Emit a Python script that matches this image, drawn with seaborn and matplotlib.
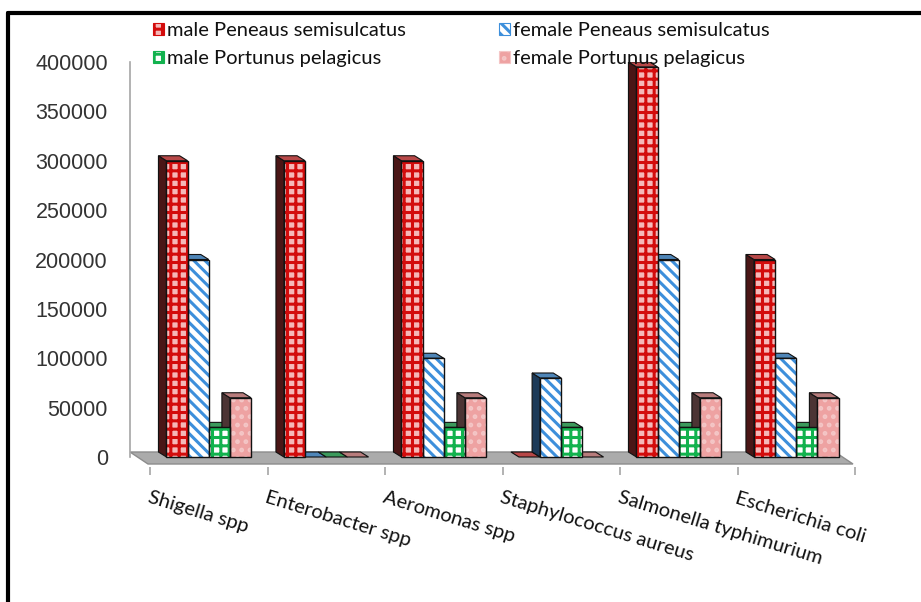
import matplotlib
matplotlib.use("Agg")
import numpy as np
import pandas as pd
import seaborn as sns
import matplotlib.pyplot as plt
import matplotlib.transforms as mtransforms
from matplotlib.patches import Polygon, Rectangle, Patch
from matplotlib.lines import Line2D

# ---------------- data ----------------
categories = ["Shigella spp", "Enterobacter spp", "Aeromonas spp",
              "Staphylococcus aureus", "Salmonella typhimurium", "Escherichia coli"]
series = ["male Peneaus semisulcatus", "female Peneaus semisulcatus",
          "male Portunus pelagicus", "female Portunus pelagicus"]
male_peneaus = [300000, 300000, 300000, 0, 395000, 200000]
female_peneaus = [200000, 0, 100000, 80000, 200000, 100000]
male_portunus = [30000, 0, 30000, 30000, 30000, 30000]
female_portunus = [60000, 0, 60000, 0, 60000, 60000]
yticks = [0, 50000, 100000, 150000, 200000, 250000, 300000, 350000, 400000]

values = [male_peneaus, female_peneaus, male_portunus, female_portunus]
df = pd.DataFrame({
    "category": [c for s in series for c in categories],
    "series": [s for s in series for c in categories],
    "value": [v for vals in values for v in vals],
})

# ---------------- style ----------------
sns.set_theme(style="white")
plt.rcParams["hatch.linewidth"] = 2.2
plt.rcParams["font.family"] = ["Lato", "DejaVu Sans"]

styles = {
    series[0]: dict(face="#F5B8B8", hatch="++", hc="#D30C0C", side="#4A1616", top="#B84848"),
    series[1]: dict(face="#FFFFFF", hatch="\\\\\\", hc="#3D8FDB", side="#1C3A58", top="#4F86B8"),
    series[2]: dict(face="#FFFFFF", hatch="++", hc="#12B24E", side="#1E4A2C", top="#3C9A5C"),
    series[3]: dict(face="#EEA2A2", hatch="..", hc="#F4C6C6", side="#4C3434", top="#B87C7C"),
}
palette = {s: styles[s]["face"] for s in series}

W, H = 921, 602
fig = plt.figure(figsize=(W / 100, H / 100), dpi=100)
fig.patch.set_facecolor("white")

# axes geometry in pixels
ax_left, ax_right, ax_top, ax_bottom = 130, 860, 62, 467
ax = fig.add_axes([ax_left / W, 1 - ax_bottom / H, (ax_right - ax_left) / W, (ax_bottom - ax_top) / H])

zero_px = 457
ypx = 395 / 400000.0            # pixels per unit
cat_px = 117.5                  # pixels per category
ymin = -(ax_bottom - zero_px) / ypx
xmin = -0.5 - (150 - ax_left) / cat_px
xmax = xmin + (ax_right - ax_left) / cat_px

sns.barplot(data=df, x="category", y="value", hue="series", order=categories,
            hue_order=series, palette=palette, saturation=1, width=0.72,
            dodge=True, legend=False, ax=ax)

ax.set_xlim(xmin, xmax)
ax.set_ylim(ymin, 400000)

# 3-D look: depth offset
dx = -8 / cat_px
dy = 5 / ypx

# floor
f_front = -7 / ypx
f_back = 5 / ypx
fx0 = -0.5 - 2 / cat_px
fx1 = 5.5 - 2 / cat_px
fdx = -18 / cat_px
floor = Polygon([(fx0, f_front), (fx1, f_front), (fx1 + fdx, f_back), (fx0 + fdx, f_back)],
                closed=True, facecolor="#ABABAB", edgecolor="#8C8C8C", lw=1.0, zorder=0.5)
ax.add_patch(floor)

for container, s in zip(ax.containers, series):
    st = styles[s]
    for p in container.patches:
        x0, w, h = p.get_x(), p.get_width(), p.get_height()
        # side + top faces
        if h > 0:
            side = Polygon([(x0, 0), (x0 + dx, dy), (x0 + dx, h + dy), (x0, h)], closed=True,
                           facecolor=st["side"], edgecolor="#111111", lw=0.8, zorder=1.5)
            ax.add_patch(side)
        top = Polygon([(x0, h), (x0 + dx, h + dy), (x0 + w + dx, h + dy), (x0 + w, h)], closed=True,
                      facecolor=st["top"], edgecolor="#111111", lw=0.8, zorder=1.5)
        ax.add_patch(top)
        # front face with hatch
        p.set_hatch(st["hatch"])
        p.set_edgecolor(st["hc"])
        p.set_linewidth(0)
        p.set_zorder(2)
        if h > 0:
            ax.add_patch(Rectangle((x0, 0), w, h, fill=False, edgecolor="#111111", lw=1.0, zorder=3))

# axes styling
for sp in ["top", "right", "bottom"]:
    ax.spines[sp].set_visible(False)
ax.spines["left"].set_color("#A6A6A6")
ax.spines["left"].set_linewidth(1.2)
ax.spines["left"].set_bounds(0, 400000)

ax.set_yticks(yticks)
ax.set_yticklabels([str(v) for v in yticks])
ax.tick_params(axis="y", length=4, width=1.2, color="#A6A6A6", pad=12,
               labelsize=15.5, labelcolor="#333333")
for lab in ax.get_yticklabels():
    lab.set_fontfamily(["Liberation Sans", "DejaVu Sans"])

ax.set_xticks(range(len(categories)))
ax.set_xticks([i - 0.5 for i in range(len(categories) + 1)], minor=True)
ax.tick_params(axis="x", which="minor", length=6, width=1.2, color="#A6A6A6", bottom=True)
ax.tick_params(axis="x", which="major", length=0, pad=16, labelsize=14.5, labelcolor="#111111")
shift = mtransforms.ScaledTranslation(-58 / 100, 0, fig.dpi_scale_trans)
for lab in ax.get_xticklabels():
    lab.set_rotation(-17)
    lab.set_ha("left")
    lab.set_va("top")
    lab.set_rotation_mode("anchor")
    lab.set_transform(lab.get_transform() + shift)
ax.set_xlabel("")
ax.set_ylabel("")
ax.grid(False)

# legend
order = [0, 2, 1, 3]
handles = [Patch(facecolor=styles[series[i]]["face"], edgecolor=styles[series[i]]["hc"],
                 hatch=styles[series[i]]["hatch"], lw=0.8) for i in order]
labels = [series[i] for i in order]
leg = fig.legend(handles, labels, loc="upper left", bbox_to_anchor=(145 / W, 1 - 14 / H),
                 ncol=2, frameon=False, fontsize=14.5, handlelength=0.55, handleheight=0.55,
                 handletextpad=0.15, columnspacing=4.6, labelspacing=0.55, borderaxespad=0)
for t in leg.get_texts():
    t.set_color("#111111")

# outer frame (left and top edges)
fig.add_artist(Line2D([7.5 / W, 7.5 / W], [0, 1 - 13 / H], transform=fig.transFigure,
                      color="black", lw=3))
fig.add_artist(Line2D([7.5 / W, 1], [1 - 13 / H, 1 - 13 / H], transform=fig.transFigure,
                      color="black", lw=3))

fig.savefig("out.png", dpi=100)
